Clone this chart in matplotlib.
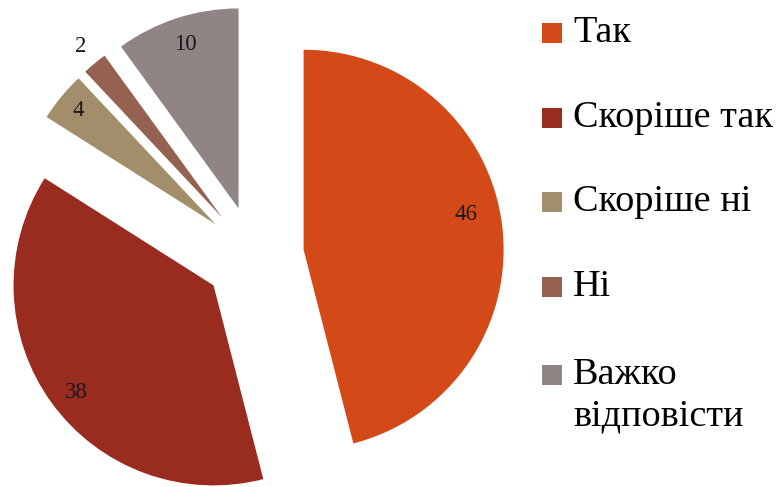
import numpy as np
import matplotlib
matplotlib.use('Agg')
import matplotlib.pyplot as plt
from matplotlib.patches import Rectangle

labels = ['Так', 'Скоріше так', 'Скоріше ні', 'Ні', 'Важко\nвідповісти']
values = [46, 38, 4, 2, 10]
colors = ['#D34A18', '#9A2B1F', '#A28E6A', '#956252', '#918485']
# where each number sits: part of the radius, and a small turn (degrees)
label_r = [0.83, 0.87, 0.89, 1.11, 0.86]
label_turn = [5, 2, 0, 0, 0]

W, H = 781, 487
fig = plt.figure(figsize=(W / 100, H / 100), dpi=100)

# pie centre and radius in pixels
cx, cy, R = 254, H - 256, 200
L = 1.35
ax = fig.add_axes([(cx - R * L) / W, (cy - R * L) / H, 2 * R * L / W, 2 * R * L / H])

wedges, _ = ax.pie(values, colors=colors, startangle=90, counterclock=False,
                   explode=[0.25] * len(values), radius=1,
                   wedgeprops=dict(linewidth=0))
ax.set_xlim(-L, L)
ax.set_ylim(-L, L)
ax.set_aspect('equal')
ax.axis('off')

for w, v, lr, turn in zip(wedges, values, label_r, label_turn):
    mid = np.deg2rad((w.theta1 + w.theta2) / 2 + turn)
    ox, oy = w.center
    ax.text(ox + lr * np.cos(mid), oy + lr * np.sin(mid), str(v),
            ha='center', va='center', fontsize=16.5, family='Liberation Serif',
            color='#1a1a1a')

# legend on the right
rows = [33, 118, 202, 287, 375]
for lab, col, y in zip(labels, colors, rows):
    fig.patches.append(Rectangle((542 / W, (H - y - 10) / H), 20 / W, 20 / H,
                                 transform=fig.transFigure, color=col, lw=0))
    if '\n' in lab:
        fig.text(573 / W, (H - y + 18) / H, lab, ha='left', va='top',
                 fontsize=27.5, family='Liberation Serif', color='black',
                 linespacing=1.3)
    else:
        fig.text(573 / W, (H - y) / H, lab, ha='left', va='center',
                 fontsize=27.5, family='Liberation Serif', color='black')

fig.savefig('out.png', dpi=100)
